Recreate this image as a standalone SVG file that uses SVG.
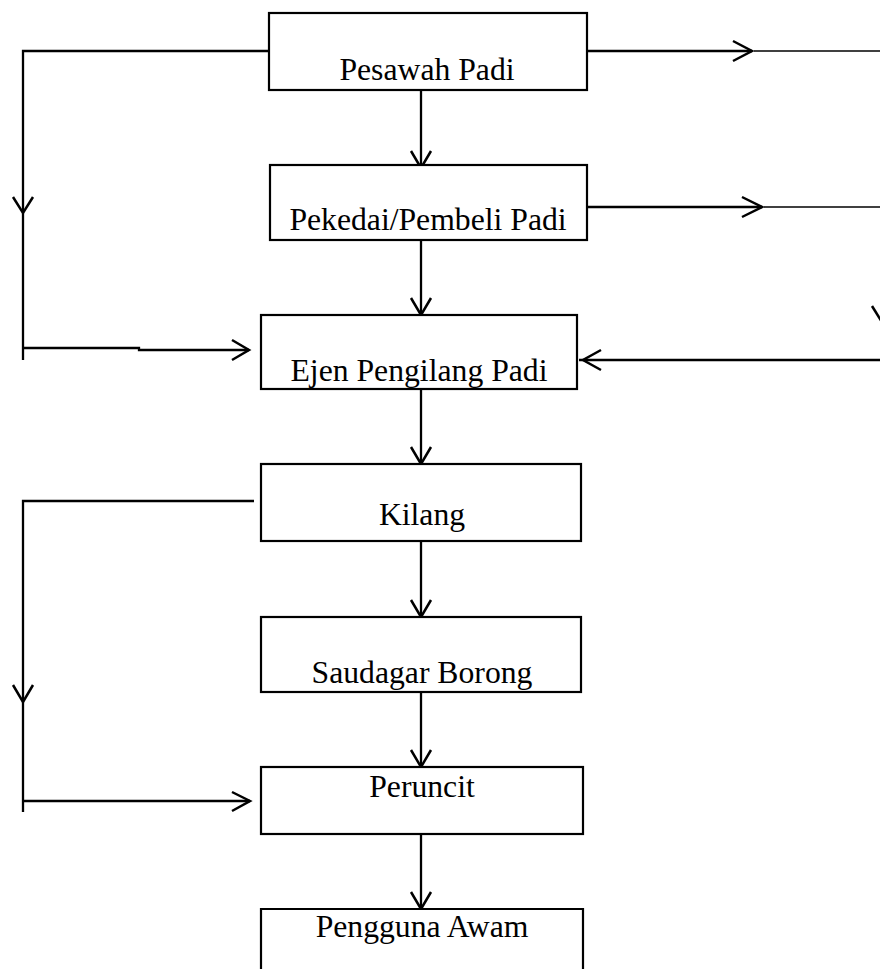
<svg xmlns="http://www.w3.org/2000/svg" width="880" height="969" viewBox="0 0 880 969">
<style>
.box{fill:#fff;stroke:#000;stroke-width:2.2}
.ln{fill:none;stroke:#000;stroke-width:2.3}
.thin{fill:none;stroke:#000;stroke-width:1.6}
.head{fill:none;stroke:#000;stroke-width:2.5;stroke-linejoin:miter}
text{font-family:"Liberation Serif","Times New Roman",serif;font-size:31.7px;fill:#000;text-anchor:middle}
</style>
<rect width="880" height="969" fill="#fff"/>
<g id="connectors">
<path class="ln" d="M268,51 H23 V360"/>
<polyline class="head" points="13,197 23,213 33,197"/>
<path class="ln" d="M23,348 H139 V350 H249"/>
<polyline class="head" points="232,340 249,350 232,360"/>
<path class="ln" d="M587,51 H752"/>
<polyline class="head" points="733,41 752,51 733,61"/>
<path class="thin" d="M754,51 H880"/>
<path class="ln" d="M587,207 H762"/>
<polyline class="head" points="742,197 762,207 742,217"/>
<path class="thin" d="M764,207 H880"/>
<path class="head" d="M872,306 L882,322"/>
<path class="ln" d="M880,360 H579"/>
<polyline class="head" points="601,350 583,360 601,370"/>
<path class="ln" d="M421,91 V167"/>
<polyline class="head" points="411,151 421,168 431,151"/>
<path class="ln" d="M421,240 V314"/>
<polyline class="head" points="411,298 421,315 431,298"/>
<path class="ln" d="M421,389 V463"/>
<polyline class="head" points="411,447 421,464 431,447"/>
<path class="ln" d="M421,541 V616"/>
<polyline class="head" points="411,600 421,617 431,600"/>
<path class="ln" d="M421,692 V766"/>
<polyline class="head" points="411,750 421,767 431,750"/>
<path class="ln" d="M421,834 V908"/>
<polyline class="head" points="411,892 421,909 431,892"/>
<path class="ln" d="M254,501 H23 V812"/>
<polyline class="head" points="13,685 23,702 33,685"/>
<path class="ln" d="M23,801 H250"/>
<polyline class="head" points="232,792 250,801 232,811"/>
</g>
<g id="n1"><rect class="box" x="269" y="13" width="318" height="77"/><text x="427" y="80">Pesawah Padi</text></g>
<g id="n2"><rect class="box" x="270" y="165" width="317" height="75"/><text x="428" y="230">Pekedai/Pembeli Padi</text></g>
<g id="n3"><rect class="box" x="261" y="315" width="316" height="74"/><text x="419" y="381">Ejen Pengilang Padi</text></g>
<g id="n4"><rect class="box" x="261" y="464" width="320" height="77"/><text x="422" y="525">Kilang</text></g>
<g id="n5"><rect class="box" x="261" y="617" width="320" height="75"/><text x="422" y="683">Saudagar Borong</text></g>
<g id="n6"><rect class="box" x="261" y="767" width="322" height="67"/><text x="422" y="797">Peruncit</text></g>
<g id="n7"><path class="box" d="M261,969 V909 H583 V969"/><text x="422" y="937">Pengguna Awam</text></g>
</svg>
